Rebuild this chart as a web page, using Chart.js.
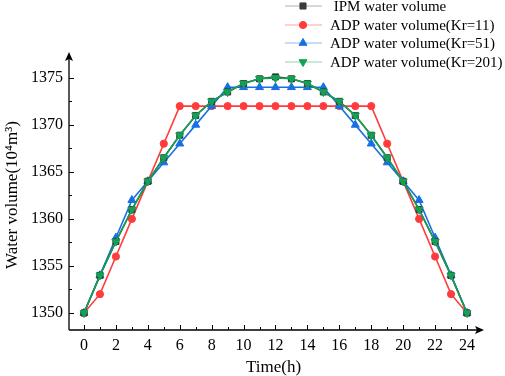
<!DOCTYPE html>
<html>
<head>
<meta charset="utf-8">
<script src="https://cdn.jsdelivr.net/npm/chart.js@4.4.1/dist/chart.umd.min.js"></script>
<style>
html,body{margin:0;padding:0;background:#fff;}
#wrap{width:505px;height:376px;position:relative;}
</style>
</head>
<body>
<div id="wrap"><canvas id="c" width="505" height="376"></canvas></div>
<script>
const hours = [0,1,2,3,4,5,6,7,8,9,10,11,12,13,14,15,16,17,18,19,20,21,22,23,24];
const ipmVolume = [1350,1354,1357.6,1361,1364,1366.5,1368.9,1371,1372.5,1373.5,1374.4,1374.9,1375.1,1374.9,1374.4,1373.5,1372.5,1371,1368.9,1366.5,1364,1361,1357.6,1354,1350];
const adpKr11 = [1350,1352,1356,1360,1364,1368,1372,1372,1372,1372,1372,1372,1372,1372,1372,1372,1372,1372,1372,1368,1364,1360,1356,1352,1350];
const adpKr51 = [1350,1354,1358,1362,1364,1366,1368,1370,1372,1374,1374,1374,1374,1374,1374,1374,1372,1370,1368,1366,1364,1362,1358,1354,1350];
const adpKr201 = [1350,1354,1357.6,1361,1364,1366.5,1368.9,1371,1372.5,1373.5,1374.4,1374.9,1375,1374.9,1374.4,1373.5,1372.5,1371,1368.9,1366.5,1364,1361,1357.6,1354,1350];
const xTicks = [0,2,4,6,8,10,12,14,16,18,20,22,24];
const xMinorTicks = [1,3,5,7,9,11,13,15,17,19,21,23];
const yTicks = [1350,1355,1360,1365,1370,1375];
const yMinorTicks = [1352.5,1357.5,1362.5,1367.5,1372.5];
const seriesLabels = [' IPM water volume','ADP water volume(Kr=11)','ADP water volume(Kr=51)','ADP water volume(Kr=201)'];

const SERIF = "'Liberation Serif','Times New Roman',serif";
const pts = arr => arr.map((v,i)=>({x:hours[i], y:v}));

function ds(label, data, color, legendColor, style, radius, rot, order){
  return {label, data: pts(data), borderColor: color, backgroundColor: color,
    pointBackgroundColor: color, pointBorderColor: color, pointStyle: style,
    pointRadius: radius, pointRotation: rot, pointBorderWidth: 1, borderWidth: 1.6,
    tension: 0, order, legendColor};
}

const legendPlugin = {
  id:'customLegend',
  afterDraw(chart){
    const ctx = chart.ctx;
    const rowsY = [6,25,43,62];
    chart.data.datasets.forEach((d,i)=>{
      const y = rowsY[i];
      ctx.save();
      ctx.strokeStyle = d.legendColor; ctx.lineWidth = 1;
      ctx.beginPath(); ctx.moveTo(285,y); ctx.lineTo(322,y); ctx.stroke();
      ctx.fillStyle = d.pointBackgroundColor; ctx.strokeStyle = d.pointBorderColor;
      Chart.helpers.drawPoint(ctx, {pointStyle:d.pointStyle, rotation:d.pointRotation, radius:d.pointRadius, borderWidth:1}, 303, y);
      ctx.fillStyle = '#000'; ctx.font = "15px " + SERIF; ctx.textBaseline='middle'; ctx.textAlign='left';
      ctx.fillText(d.label, 330, y+1);
      ctx.restore();
    });
  }
};

const axesPlugin = {
  id:'axesArrows',
  afterDatasetsDraw(chart){
    const {ctx, chartArea:a, scales:{x,y}} = chart;
    ctx.save();
    ctx.strokeStyle='#000'; ctx.fillStyle='#000'; ctx.lineWidth=1.3;
    ctx.beginPath();
    ctx.moveTo(a.left, a.bottom); ctx.lineTo(a.left, a.top-2);
    ctx.moveTo(a.left, a.bottom); ctx.lineTo(a.right, a.bottom);
    ctx.stroke();
    ctx.beginPath();
    ctx.moveTo(a.left, a.top-8); ctx.lineTo(a.left-4, a.top+1); ctx.lineTo(a.left, a.top-1); ctx.lineTo(a.left+4, a.top+1); ctx.closePath(); ctx.fill();
    ctx.beginPath();
    ctx.moveTo(a.right+6, a.bottom); ctx.lineTo(a.right-3, a.bottom-4); ctx.lineTo(a.right-1, a.bottom); ctx.lineTo(a.right-3, a.bottom+4); ctx.closePath(); ctx.fill();
    ctx.lineWidth=1;
    ctx.beginPath();
    xTicks.forEach(v=>{const px=Math.round(x.getPixelForValue(v))+0.5; ctx.moveTo(px,a.bottom); ctx.lineTo(px,a.bottom-5);});
    xMinorTicks.forEach(v=>{const px=Math.round(x.getPixelForValue(v))+0.5; ctx.moveTo(px,a.bottom); ctx.lineTo(px,a.bottom-3);});
    yTicks.forEach(v=>{const py=Math.round(y.getPixelForValue(v))+0.5; ctx.moveTo(a.left,py); ctx.lineTo(a.left+5,py);});
    yMinorTicks.forEach(v=>{const py=Math.round(y.getPixelForValue(v))+0.5; ctx.moveTo(a.left,py); ctx.lineTo(a.left+3,py);});
    ctx.stroke();
    ctx.restore();
  }
};

new Chart(document.getElementById('c'), {
  type:'line',
  data:{datasets:[
    ds(seriesLabels[0], ipmVolume, '#3a3a3a', '#b0b0b0', 'rect', 4.3, 0, 2),
    ds(seriesLabels[1], adpKr11, '#ff3c3c', '#ffa0a0', 'circle', 3.6, 0, 4),
    ds(seriesLabels[2], adpKr51, '#1670e4', '#8dbaf2', 'triangle', 4.6, 0, 3),
    ds(seriesLabels[3], adpKr201, '#12a255', '#8ed6ac', 'triangle', 4.6, 180, 1)
  ]},
  options:{
    responsive:false, animation:false,
    layout:{padding:{top:60,right:27,left:0,bottom:0}},
    plugins:{legend:{display:false}, tooltip:{enabled:false}},
    scales:{
      x:{type:'linear', min:-0.94, max:24.69,
        afterBuildTicks:s=>{s.ticks = xTicks.map(v=>({value:v}));},
        afterFit:s=>{s.height=46;},
        grid:{display:false, drawTicks:false}, border:{display:false},
        ticks:{color:'#000', padding:6, font:{family:SERIF, size:16}, maxRotation:0, autoSkip:false, callback:v=>String(v)},
        title:{display:true, text:'Time(h)', color:'#000', font:{family:SERIF, size:17, lineHeight:1}, padding:{top:0,bottom:0}}
      },
      y:{type:'linear', min:1348.19, max:1376.9,
        afterBuildTicks:s=>{s.ticks = yTicks.map(v=>({value:v}));},
        afterFit:s=>{s.width=69;},
        grid:{display:false, drawTicks:false}, border:{display:false},
        ticks:{color:'#000', padding:6, font:{family:SERIF, size:16}, callback:v=>String(v)},
        title:{display:true, text:'Water volume(10\u2074m\u00B3)', color:'#000', font:{family:SERIF, size:17}, padding:{top:2,bottom:0}}
      }
    }
  },
  plugins:[legendPlugin, axesPlugin]
});
</script>
</body>
</html>
